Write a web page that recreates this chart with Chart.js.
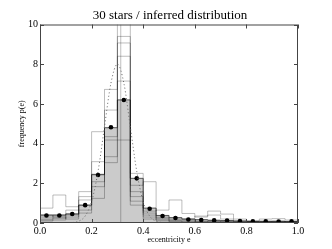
<!DOCTYPE html>
<html>
<head>
<meta charset="utf-8">
<script src="https://cdn.jsdelivr.net/npm/chart.js@4.4.1/dist/chart.umd.min.js"></script>
<style>
  html, body { margin: 0; padding: 0; background: #fff; }
  #wrap { width: 332px; height: 249px; }
</style>
</head>
<body>
<div id="wrap"><canvas id="myChart" width="332" height="249"></canvas></div>
<script>
// bin edges of the eccentricity histogram
const binEdges = [0.0, 0.05, 0.1, 0.15, 0.2, 0.25, 0.3, 0.35, 0.4, 0.45, 0.5,
                  0.55, 0.6, 0.65, 0.7, 0.75, 0.8, 0.85, 0.9, 0.95, 1.0];
const binCenters = [0.025, 0.075, 0.125, 0.175, 0.225, 0.275, 0.325, 0.375, 0.425, 0.475,
                    0.525, 0.575, 0.625, 0.675, 0.725, 0.775, 0.825, 0.875, 0.925, 0.975];

// filled (median) histogram
const medianValues = [0.4, 0.4, 0.45, 0.9, 2.45, 4.8, 6.2, 2.25, 0.75, 0.38,
                      0.27, 0.2, 0.17, 0.14, 0.12, 0.1, 0.08, 0.08, 0.07, 0.08];
// black dots
const meanValues = [0.38, 0.38, 0.45, 0.9, 2.42, 4.82, 6.2, 2.25, 0.72, 0.35,
                    0.25, 0.18, 0.15, 0.13, 0.12, 0.1, 0.08, 0.08, 0.07, 0.08];

// thin outline histograms (samples)
const sample1 = [0.75, 1.41, 0.82, 1.58, 4.6, 3.04, 4.18, 2.5, 0.6, 0.65, 1.16, 0.48, 0.3, 0.6, 0.45, 0.2, 0.1, 0.2, 0.22, 0.15];
const sample2 = [0.3, 0.3, 0.65, 1.33, 3.09, 6.73, 7.15, 1.9, 2.08, 0.3, 0.2, 0.2, 0.35, 0.4, 0.2, 0.1, 0.1, 0.1, 0.1, 0.05];
const sample3 = [0.2, 0.22, 0.3, 1.16, 2.08, 5.69, 10.6, 1.58, 0.5, 0.25, 0.15, 0.15, 0.1, 0.1, 0.1, 0.05, 0.05, 0.05, 0.05, 0.05];
const sample4 = [0.15, 0.15, 0.48, 0.65, 1.83, 4.35, 9.4, 1.33, 0.4, 0.2, 0.1, 0.1, 0.05, 0.05, 0.05, 0.05, 0.05, 0.05, 0.05, 0.05];
const sample5 = [0.4, 0.3, 0.2, 0.9, 1.24, 3.34, 9.07, 1.1, 0.3, 0.15, 0.1, 0.05, 0.05, 0.1, 0.05, 0.05, 0.05, 0.05, 0.1, 0.05];
const sample6 = [0.1, 0.4, 0.4, 0.5, 2.42, 4.18, 8.4, 0.9, 0.2, 0.1, 0.05, 0.05, 0.05, 0.05, 0.05, 0.03, 0.03, 0.03, 0.03, 0.03];

// dotted "true" distribution
const curveX = [0.1, 0.125, 0.15, 0.175, 0.2, 0.225, 0.25, 0.275, 0.3, 0.325, 0.35, 0.375, 0.4, 0.425, 0.45, 0.475, 0.5];
const curveY = [0.0, 0.02, 0.09, 0.35, 1.08, 2.6, 4.85, 7.05, 8.0, 7.05, 4.85, 2.6, 1.08, 0.35, 0.09, 0.02, 0.0];

// thin vertical marker
const markerE = 0.313;
const markerY = [0, 10];

const xTicks = [0.0, 0.2, 0.4, 0.6, 0.8, 1.0];
const yTicks = [0, 2, 4, 6, 8, 10];

function stepData(vals){
    // one point per edge; each bin value is held until the next edge
    return binEdges.map(function(e, i){
        return {x: e, y: vals[Math.min(i, vals.length - 1)]};
    });
}

const serif = "'Liberation Serif', 'DejaVu Serif', serif";
const sampleColor = 'rgba(0,0,0,0.26)';

var datasets = [];
datasets.push({
    data: curveX.map(function(x, i){ return {x: x, y: curveY[i]}; }),
    borderColor: '#666', borderWidth: 1, borderDash: [1, 2.5],
    pointRadius: 0, cubicInterpolationMode: 'monotone', fill: false, order: 0
});
datasets.push({
    data: binCenters.map(function(x, i){ return {x: x, y: meanValues[i]}; }),
    showLine: false, pointRadius: 2.3, pointBackgroundColor: '#000',
    pointBorderColor: '#000', pointBorderWidth: 0, order: 1
});
[sample1, sample2, sample3, sample4, sample5, sample6].forEach(function(s){
    datasets.push({
        data: stepData(s), stepped: 'before', borderColor: sampleColor,
        borderWidth: 1, pointRadius: 0, fill: false, order: 2
    });
});
datasets.push({
    data: markerY.map(function(y){ return {x: markerE, y: y}; }),
    borderColor: 'rgba(0,0,0,0.25)', borderWidth: 1, pointRadius: 0, fill: false, order: 2
});
datasets.push({
    data: stepData(medianValues), stepped: 'before', borderColor: '#555',
    borderWidth: 1, backgroundColor: '#cbcbcb', pointRadius: 0, fill: 'origin', order: 3
});

// frame + inward ticks on all four sides
const framePlugin = {
    id: 'frame',
    afterDatasetsDraw: function(chart){
        const ctx = chart.ctx, a = chart.chartArea;
        const xs = chart.scales.x, ys = chart.scales.y;
        ctx.save();
        ctx.strokeStyle = '#444';
        ctx.lineWidth = 1;
        ctx.strokeRect(a.left + 0.5, a.top + 0.5, a.right - a.left - 1, a.bottom - a.top - 1);
        ctx.beginPath();
        xTicks.forEach(function(t){
            const px = Math.round(xs.getPixelForValue(t)) + 0.5;
            ctx.moveTo(px, a.bottom); ctx.lineTo(px, a.bottom - 4);
            ctx.moveTo(px, a.top); ctx.lineTo(px, a.top + 4);
        });
        yTicks.forEach(function(t){
            const py = Math.round(ys.getPixelForValue(t)) + 0.5;
            ctx.moveTo(a.left, py); ctx.lineTo(a.left + 4, py);
            ctx.moveTo(a.right, py); ctx.lineTo(a.right - 4, py);
        });
        ctx.stroke();
        ctx.restore();
    }
};

new Chart(document.getElementById('myChart').getContext('2d'), {
    type: 'line',
    data: { datasets: datasets },
    options: {
        responsive: false,
        animation: false,
        layout: { padding: { left: 8, right: 0, top: 0, bottom: 0 } },
        plugins: {
            legend: { display: false },
            tooltip: { enabled: false },
            title: {
                display: true,
                text: '30 stars / inferred distribution',
                color: '#000',
                font: { family: serif, size: 13, weight: 'normal', lineHeight: 1.1 },
                padding: { top: 8, bottom: 2.2 }
            }
        },
        scales: {
            x: {
                type: 'linear', min: 0, max: 1,
                afterFit: function(s){ s.height = 26; },
                afterBuildTicks: function(s){ s.ticks = xTicks.map(function(v){ return {value: v}; }); },
                grid: { display: false, drawTicks: false },
                border: { display: false },
                ticks: {
                    color: '#000', padding: 2, maxRotation: 0,
                    font: { family: serif, size: 10 },
                    callback: function(v){ return v.toFixed(1); }
                },
                title: {
                    display: true, text: 'eccentricity e', color: '#000',
                    font: { family: serif, size: 8 }, padding: { top: 0, bottom: 4 }
                }
            },
            y: {
                type: 'linear', min: 0, max: 10,
                afterFit: function(s){ s.width = 32; },
                afterBuildTicks: function(s){ s.ticks = yTicks.map(function(v){ return {value: v}; }); },
                grid: { display: false, drawTicks: false },
                border: { display: false },
                ticks: {
                    color: '#000', padding: 2,
                    font: { family: serif, size: 10 }
                },
                title: {
                    display: true, text: 'frequency p(e)', color: '#000',
                    font: { family: serif, size: 8 }, padding: { top: 9, bottom: 0 }
                }
            },
            yRight: {
                type: 'linear', position: 'right', min: 0, max: 10,
                afterFit: function(s){ s.width = 34; },
                grid: { display: false, drawTicks: false },
                border: { display: false },
                ticks: { display: false }
            }
        }
    },
    plugins: [framePlugin]
});
</script>
</body>
</html>
